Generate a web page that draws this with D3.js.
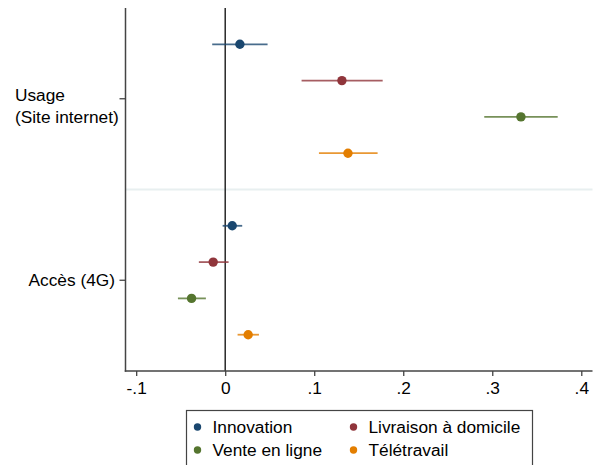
<!DOCTYPE html>
<html><head><meta charset="utf-8">
<script src="https://cdn.jsdelivr.net/npm/d3@7"></script>
<style>body{margin:0;background:#fff}svg{display:block}text{font-family:"Liberation Sans",Arial,sans-serif}</style>
</head><body>
<script>
const series = ["Innovation","Livraison à domicile","Vente en ligne","Télétravail"];
const colors = ["#1a476f","#90353b","#55752f","#e37e00"];
const groups = ["Usage\n(Site internet)","Accès (4G)"];
// coefficients and CI per group (Usage, Accès) per series
const coefUsage = [0.0165, 0.1311, 0.3322, 0.1379];
const loUsage   = [-0.0146, 0.0858, 0.2910, 0.1053];
const hiUsage   = [0.0476, 0.1769, 0.3735, 0.1712];
const coefAcces = [0.0079, -0.0135, -0.0378, 0.0258];
const loAcces   = [-0.0029, -0.0296, -0.0531, 0.0139];
const hiAcces   = [0.0191, 0.0038, -0.0217, 0.0379];
const xTicks = [-0.1, 0, 0.1, 0.2, 0.3, 0.4];
const xTickLabels = ["-.1","0",".1",".2",".3",".4"];

const W = 598, H = 465, FS = "17.3px";
const svg = d3.select("body").append("svg").attr("width", W).attr("height", H);
const mL = 125.5, mR = 592.5, mT = 8, mB = 371;
const x = d3.scaleLinear().domain([-0.112, 0.4126]).range([mL, mR]);
const y = d3.scaleLinear().domain([0, 10]).range([mT, mB]);

const rows = [];
series.forEach((s, i) => {
  rows.push({s: i, pos: 1 + i, c: coefUsage[i], lo: loUsage[i], hi: hiUsage[i]});
  rows.push({s: i, pos: 6 + i, c: coefAcces[i], lo: loAcces[i], hi: hiAcces[i]});
});

// separator
svg.append("line").attr("x1", mL).attr("x2", mR).attr("y1", y(5)).attr("y2", y(5))
  .attr("stroke", "#e8eff0").attr("stroke-width", 2);

// zero line
svg.append("line").attr("x1", x(0)).attr("x2", x(0)).attr("y1", mT).attr("y2", mB)
  .attr("stroke", "#1a1a1a").attr("stroke-width", 1.4);

// CIs
svg.selectAll("line.ci").data(rows).join("line").attr("class", "ci")
  .attr("x1", d => x(d.lo)).attr("x2", d => x(d.hi))
  .attr("y1", d => y(d.pos)).attr("y2", d => y(d.pos))
  .attr("stroke", d => colors[d.s]).attr("stroke-opacity", 0.8).attr("stroke-width", 1.8);
svg.selectAll("circle.pt").data(rows).join("circle").attr("class", "pt")
  .attr("cx", d => x(d.c)).attr("cy", d => y(d.pos)).attr("r", 4.7)
  .attr("fill", d => colors[d.s]);

// x axis
const xAxis = d3.axisBottom(x).tickValues(xTicks).tickFormat((d, i) => xTickLabels[i]).tickSize(5).tickSizeOuter(0).tickPadding(5.3);
const gx = svg.append("g").attr("transform", `translate(0,${mB})`).call(xAxis);
gx.select(".domain").attr("stroke", "#444").attr("stroke-width", 1.5).attr("d", `M${mL - 0.75},0H${mR}`);
gx.selectAll(".tick line").attr("stroke", "#444").attr("stroke-width", 1.3);
gx.selectAll(".tick text").attr("fill", "#000").style("font-size", FS).style("font-family", '"Liberation Sans",Arial,sans-serif');

// y axis
const gy = svg.append("g");
gy.append("line").attr("x1", mL).attr("x2", mL).attr("y1", mT).attr("y2", mB + 0.75)
  .attr("stroke", "#444").attr("stroke-width", 1.5);
[2.5, 7.5].forEach((p) => {
  gy.append("line").attr("x1", mL - 6).attr("x2", mL).attr("y1", y(p)).attr("y2", y(p))
    .attr("stroke", "#444").attr("stroke-width", 1.3);
});
const gUsage = gy.append("text").attr("x", 15).style("font-size", FS).attr("fill", "#000");
const ulines = groups[0].split("\n");
gUsage.append("tspan").attr("x", 15).attr("y", y(2.5) + 2.5).text(ulines[0]);
gUsage.append("tspan").attr("x", 15).attr("y", y(2.5) + 24.5).text(ulines[1]);
gy.append("text").attr("x", 115).attr("y", y(7.5) + 6).attr("text-anchor", "end")
  .style("font-size", FS).attr("fill", "#000").text(groups[1]);

// legend
const lg = svg.append("g");
lg.append("rect").attr("x", 186.5).attr("y", 410.5).attr("width", 346).attr("height", 70)
  .attr("fill", "#fff").attr("stroke", "#444").attr("stroke-width", 1.2);
const legPos = [[197.5, 427], [353.5, 427], [197.5, 450], [353.5, 450]];
series.forEach((s, i) => {
  lg.append("circle").attr("cx", legPos[i][0]).attr("cy", legPos[i][1]).attr("r", 3.7).attr("fill", colors[i]);
  lg.append("text").attr("x", legPos[i][0] + 15).attr("y", legPos[i][1] + 6)
    .style("font-size", FS).attr("fill", "#000").text(s);
});
</script>
</body></html>
